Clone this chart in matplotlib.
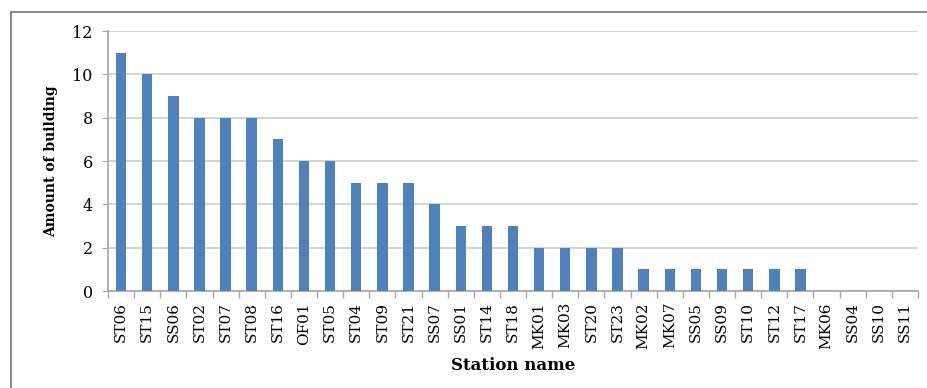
import matplotlib.pyplot as plt
import numpy as np
from matplotlib.patches import Rectangle

stations = ['ST06', 'ST15', 'SS06', 'ST02', 'ST07', 'ST08', 'ST16', 'OF01',
            'ST05', 'ST04', 'ST09', 'ST21', 'SS07', 'SS01', 'ST14', 'ST18',
            'MK01', 'MK03', 'ST20', 'ST23', 'MK02', 'MK07', 'SS05', 'SS09',
            'ST10', 'ST12', 'ST17', 'MK06', 'SS04', 'SS10', 'SS11']
buildings = [11, 10, 9, 8, 8, 8, 7, 6,
             6, 5, 5, 5, 4, 3, 3, 3,
             2, 2, 2, 2, 1, 1, 1, 1,
             1, 1, 1, 0, 0, 0, 0]

plt.rcParams['font.family'] = ['DejaVu Serif']

fig = plt.figure(figsize=(9.27, 3.88), dpi=100)
W, H = 927, 388
ax = fig.add_axes([108 / W, 1 - 291 / H, 810 / W, 260 / H])

x = np.arange(len(stations))
ax.bar(x, buildings, width=0.4, color='#4F81BD', zorder=3)

ax.set_xlim(-0.5, len(stations) - 0.5)
ax.set_ylim(0, 12)
ax.set_yticks(range(0, 13, 2))
ax.yaxis.grid(True, color='#D0D0D0', linewidth=1.3, zorder=0)

# category labels on the centres, tick marks on the boundaries
ax.set_xticks(x)
ax.set_xticklabels(stations, rotation=90, fontsize=11)
ax.tick_params(axis='x', length=0, pad=8)
ax.set_xticks(np.arange(-0.5, len(stations)), minor=True)
ax.tick_params(axis='x', which='minor', length=5, color='#A6A6A6', width=1)
ax.tick_params(axis='y', length=4, color='#A6A6A6', labelsize=11.5, pad=7)

for side in ['top', 'right']:
    ax.spines[side].set_visible(False)
for side in ['left', 'bottom']:
    ax.spines[side].set_color('#A6A6A6')
    ax.spines[side].set_linewidth(1.2)

ax.set_xlabel('Station name', fontsize=12, fontweight='bold', labelpad=6)
ax.set_ylabel('Amount of building', fontsize=10, fontweight='bold', labelpad=10)

# chart frame
fig.patches.append(Rectangle((11 / W, -0.1), 1.2, 1 - 12 / H + 0.1,
                             transform=fig.transFigure, fill=False,
                             edgecolor='#8C8C8C', linewidth=1.5))

fig.savefig('out.png', dpi=100)
